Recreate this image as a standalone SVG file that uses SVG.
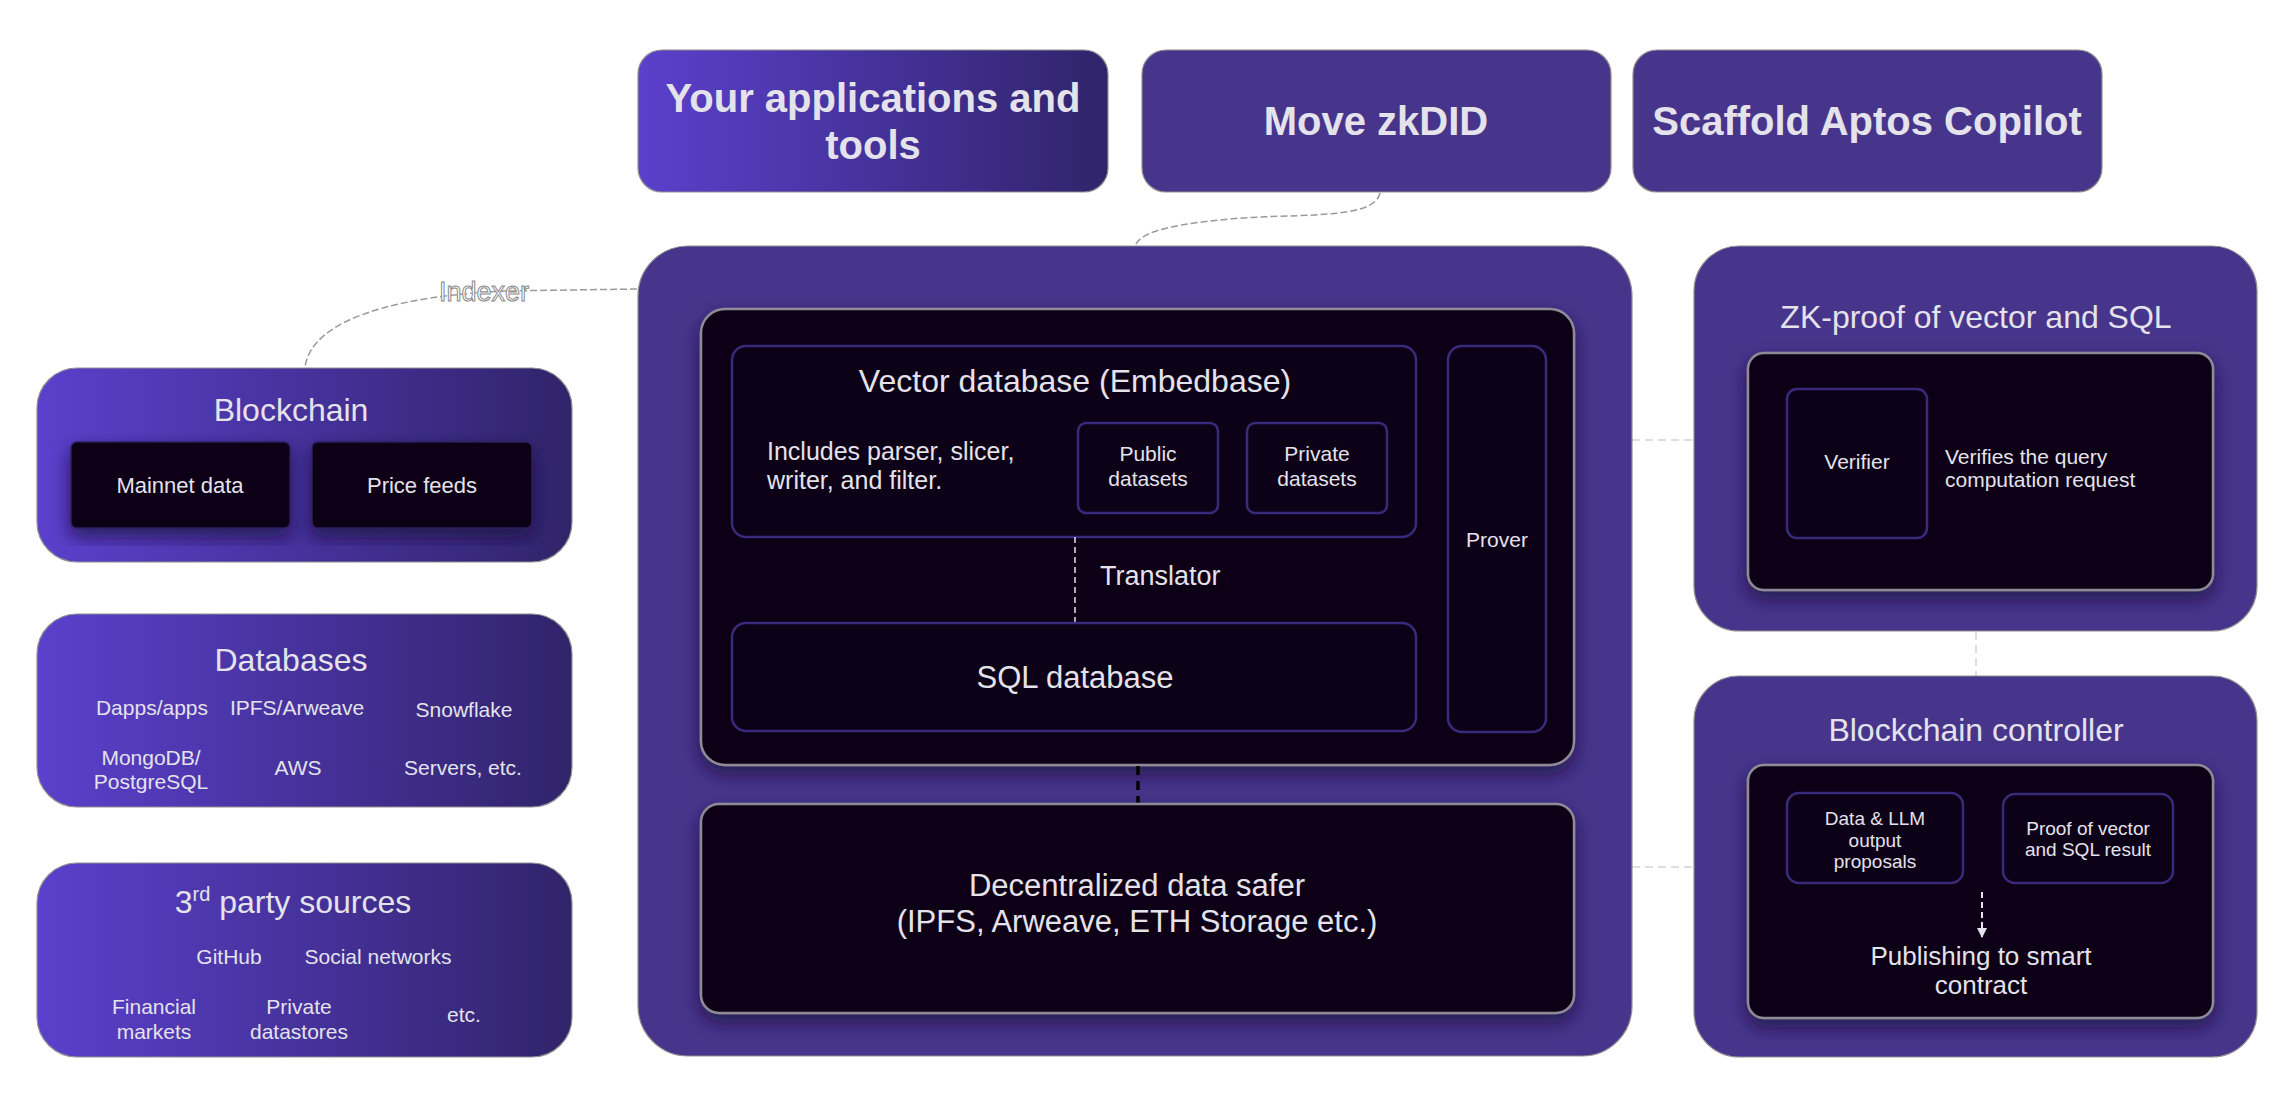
<svg xmlns="http://www.w3.org/2000/svg" width="2296" height="1120" viewBox="0 0 2296 1120">
<defs>
<linearGradient id="grad" x1="0" y1="0" x2="1" y2="0">
<stop offset="0" stop-color="#5b40cc"/>
<stop offset="1" stop-color="#30246a"/>
</linearGradient>
<filter id="shadow" x="-10%" y="-10%" width="120%" height="130%">
<feDropShadow dx="0" dy="8" stdDeviation="9" flood-color="#1a0d3c" flood-opacity="0.75"/>
</filter>
<marker id="arrow" viewBox="0 0 10 10" refX="9" refY="5" markerWidth="5" markerHeight="5" orient="auto">
<path d="M0,0 L10,5 L0,10 z" fill="#e4e2ea"/>
</marker>
</defs>
<style>
text { font-family: "Liberation Sans", Arial, sans-serif; fill: #e4e2ea; }
.outer { stroke: #8f8f8f; stroke-width: 1.2; }
.solid { fill: #47358b; }
.grad { fill: url(#grad); }
.dark { fill: #0d0117; stroke: #8e8a96; stroke-width: 2.5; filter: url(#shadow); }
.sub { fill: #0d0117; stroke: #3a2a7c; stroke-width: 2.5; }
.top { font-size: 40px; font-weight: bold; text-anchor: middle; }
.title { font-size: 32px; text-anchor: middle; }
.mid { text-anchor: middle; }
.conn { fill: none; stroke: #9a9a9a; stroke-width: 1.5; stroke-dasharray: 7 3; }
.light { fill: none; stroke: #d4d4d8; stroke-width: 1.5; stroke-dasharray: 8 5; }
</style>

<g id="connectors">
<path class="conn" d="M1380,193 C1374,222 1290,212 1220,220 C1160,226 1140,234 1135,246"/>
<path class="conn" d="M637,289 L505,291 C400,296 312,318 305,367"/>
<line class="light" x1="1632" y1="440" x2="1694" y2="440"/>
<line class="light" x1="1632" y1="867" x2="1694" y2="867"/>
<line class="light" x1="1976" y1="632" x2="1976" y2="676"/>
<text x="439" y="301" style="font-size:27px;fill:#ffffff;stroke:#8a8a8a;stroke-width:1">Indexer</text>
</g>

<g id="apps">
<rect class="grad outer" x="638" y="50" width="470" height="142" rx="24"/>
<text class="top" x="873" y="112">Your applications and</text>
<text class="top" x="873" y="159">tools</text>
</g>
<g id="zkdid">
<rect class="solid outer" x="1142" y="50" width="469" height="142" rx="24"/>
<text class="top" x="1376" y="135">Move zkDID</text>
</g>
<g id="copilot">
<rect class="solid outer" x="1633" y="50" width="469" height="142" rx="24"/>
<text class="top" x="1867" y="135">Scaffold Aptos Copilot</text>
</g>

<g id="main">
<rect class="solid outer" x="638" y="246" width="994" height="810" rx="50"/>
</g>
<g id="engine">
<rect class="dark" x="701" y="309" width="873" height="456" rx="24"/>
</g>
<g id="vector-db">
<rect class="sub" x="732" y="346" width="684" height="191" rx="14"/>
<text class="title" x="1075" y="392">Vector database (Embedbase)</text>
<text x="767" y="460" style="font-size:25px">Includes parser, slicer,</text>
<text x="767" y="489" style="font-size:25px">writer, and filter.</text>
</g>
<g id="public">
<rect class="sub" x="1078" y="423" width="140" height="90" rx="8"/>
<text class="mid" x="1148" y="461" style="font-size:21px">Public</text>
<text class="mid" x="1148" y="486" style="font-size:21px">datasets</text>
</g>
<g id="private">
<rect class="sub" x="1247" y="423" width="140" height="90" rx="8"/>
<text class="mid" x="1317" y="461" style="font-size:21px">Private</text>
<text class="mid" x="1317" y="486" style="font-size:21px">datasets</text>
</g>
<g id="prover">
<rect class="sub" x="1448" y="346" width="98" height="386" rx="14"/>
<text class="mid" x="1497" y="547" style="font-size:21px">Prover</text>
</g>
<g id="translator">
<line x1="1075" y1="537" x2="1075" y2="623" stroke="#e4e2ea" stroke-width="1.5" stroke-dasharray="6 4"/>
<text x="1100" y="585" style="font-size:27px">Translator</text>
</g>
<g id="sql-db">
<rect class="sub" x="732" y="623" width="684" height="108" rx="14"/>
<text class="title" x="1075" y="688" style="font-size:31px">SQL database</text>
</g>
<g id="link">
<line x1="1138" y1="766" x2="1138" y2="804" stroke="#000000" stroke-width="3.5" stroke-dasharray="9 6"/>
</g>
<g id="safer">
<rect class="dark" x="701" y="804" width="873" height="209" rx="18"/>
<text class="title" x="1137" y="896" style="font-size:31px">Decentralized data safer</text>
<text class="title" x="1137" y="932" style="font-size:31px">(IPFS, Arweave, ETH Storage etc.)</text>
</g>

<g id="blockchain">
<rect class="grad outer" x="37" y="368" width="535" height="194" rx="40"/>
<text class="title" x="291" y="421">Blockchain</text>
<rect x="71" y="442" width="219" height="86" rx="6" fill="#0d0117" stroke="#2c1f5e" stroke-width="1.5" filter="url(#shadow)"/>
<text class="mid" x="180" y="493" style="font-size:22px">Mainnet data</text>
<rect x="312" y="442" width="220" height="86" rx="6" fill="#0d0117" stroke="#2c1f5e" stroke-width="1.5" filter="url(#shadow)"/>
<text class="mid" x="422" y="493" style="font-size:22px">Price feeds</text>
</g>
<g id="databases">
<rect class="grad outer" x="37" y="614" width="535" height="193" rx="40"/>
<text class="title" x="291" y="671">Databases</text>
<text class="mid" x="152" y="715" style="font-size:21px">Dapps/apps</text>
<text class="mid" x="297" y="715" style="font-size:21px">IPFS/Arweave</text>
<text class="mid" x="464" y="717" style="font-size:21px">Snowflake</text>
<text class="mid" x="151" y="765" style="font-size:21px">MongoDB/</text>
<text class="mid" x="151" y="789" style="font-size:21px">PostgreSQL</text>
<text class="mid" x="298" y="775" style="font-size:21px">AWS</text>
<text class="mid" x="463" y="775" style="font-size:21px">Servers, etc.</text>
</g>
<g id="third-party">
<rect class="grad outer" x="37" y="863" width="535" height="194" rx="40"/>
<text class="title" x="293" y="913">3<tspan dy="-12" style="font-size:20px">rd</tspan><tspan dy="12"> party sources</tspan></text>
<text class="mid" x="229" y="964" style="font-size:21px">GitHub</text>
<text class="mid" x="378" y="964" style="font-size:21px">Social networks</text>
<text class="mid" x="154" y="1014" style="font-size:21px">Financial</text>
<text class="mid" x="154" y="1039" style="font-size:21px">markets</text>
<text class="mid" x="299" y="1014" style="font-size:21px">Private</text>
<text class="mid" x="299" y="1039" style="font-size:21px">datastores</text>
<text class="mid" x="464" y="1022" style="font-size:21px">etc.</text>
</g>

<g id="zk-proof">
<rect class="solid outer" x="1694" y="246" width="563" height="385" rx="45"/>
<text class="title" x="1976" y="328">ZK-proof of vector and SQL</text>
<rect class="dark" x="1748" y="353" width="465" height="237" rx="16"/>
</g>
<g id="verifier">
<rect class="sub" x="1787" y="389" width="140" height="149" rx="10"/>
<text class="mid" x="1857" y="469" style="font-size:21px">Verifier</text>
<text x="1945" y="464" style="font-size:21px">Verifies the query</text>
<text x="1945" y="487" style="font-size:21px">computation request</text>
</g>

<g id="controller">
<rect class="solid outer" x="1694" y="676" width="563" height="381" rx="45"/>
<text class="title" x="1976" y="741">Blockchain controller</text>
<rect class="dark" x="1748" y="765" width="465" height="253" rx="16"/>
</g>
<g id="proposals">
<rect class="sub" x="1787" y="793" width="176" height="90" rx="12"/>
<text class="mid" x="1875" y="825" style="font-size:19px">Data &amp; LLM</text>
<text class="mid" x="1875" y="847" style="font-size:19px">output</text>
<text class="mid" x="1875" y="868" style="font-size:19px">proposals</text>
</g>
<g id="proof">
<rect class="sub" x="2003" y="794" width="170" height="89" rx="12"/>
<text class="mid" x="2088" y="835" style="font-size:19px">Proof of vector</text>
<text class="mid" x="2088" y="856" style="font-size:19px">and SQL result</text>
</g>
<g id="publish">
<line x1="1982" y1="892" x2="1982" y2="937" stroke="#e4e2ea" stroke-width="2" stroke-dasharray="6 4" marker-end="url(#arrow)"/>
<text class="mid" x="1981" y="965" style="font-size:26px">Publishing to smart</text>
<text class="mid" x="1981" y="994" style="font-size:26px">contract</text>
</g>
</svg>
